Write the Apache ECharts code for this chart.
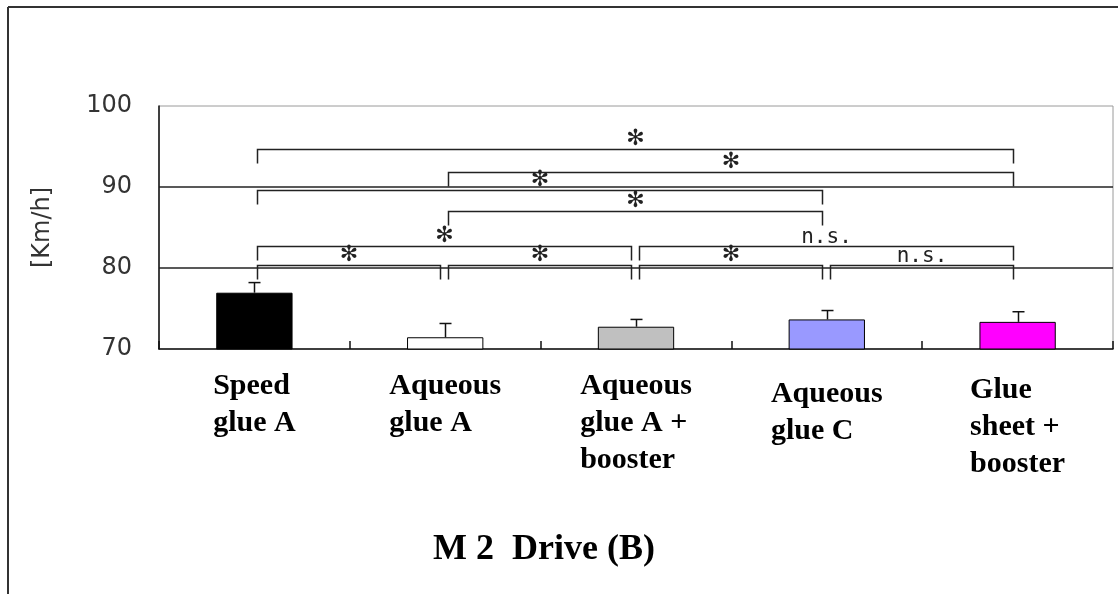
<!DOCTYPE html>
<html>
<head>
<meta charset="utf-8">
<script src="https://cdn.jsdelivr.net/npm/echarts@6/dist/echarts.min.js"></script>
<style>
html,body{margin:0;padding:0;background:#fff;}
#chart{width:1118px;height:594px;}
</style>
</head>
<body>
<div id="chart"></div>
<script>
// ---- data ----
const categories = ['Speed\nglue A', 'Aqueous\nglue A', 'Aqueous\nglue A +\nbooster', 'Aqueous\nglue C', 'Glue\nsheet +\nbooster'];
const means = [76.95, 71.45, 72.75, 73.65, 73.35];
const errors = [1.25, 1.7, 0.9, 1.1, 1.25];
const barColors = ['#000000', '#ffffff', '#c0c0c0', '#9999ff', '#ff00ff'];
const yMin = 70, yMax = 100, yStep = 10;
const refLines = [80, 90];
const bracketFrom  = [0, 1, 0, 1, 0, 2, 0, 1, 2, 3];
const bracketTo    = [4, 4, 3, 3, 2, 4, 1, 2, 3, 4];
const bracketLevel = [94.7, 91.85, 89.63, 87.04, 82.72, 82.72, 80.35, 80.35, 80.35, 80.35];
const bracketLabel = ['*', '*', '*', '*', '*', 'n.s.', '*', '*', '*', 'n.s.'];
const chartTitle = 'M 2  Drive (B)';
const yName = '[Km/h]';

// ---- chart ----
const chart = echarts.init(document.getElementById('chart'), null, {renderer: 'canvas'});
const labelPad = [0, 0, 0, 16, 8];

const option = {
  animation: false,
  backgroundColor: '#ffffff',
  title: {
    text: chartTitle,
    left: 428,
    top: 527,
    textStyle: {fontFamily: 'Liberation Serif', fontWeight: 'bold', fontSize: 36, color: '#000'}
  },
  grid: {left: 159, right: 5, top: 106, bottom: 245, show: true, borderColor: '#9a9a9a', borderWidth: 1, backgroundColor: 'transparent'},
  xAxis: {
    type: 'category',
    data: categories,
    axisLine: {lineStyle: {color: '#111', width: 1.5}},
    axisTick: {show: true, inside: true, length: 8, lineStyle: {color: '#111', width: 1.5}},
    axisLabel: {
      interval: 0,
      margin: 19,
      align: 'center',
      verticalAlign: 'top',
      formatter: function (val, idx) {
        const name = 'p' + idx;
        return val.split('\n').map(l => '{' + name + '|' + l + '}').join('\n');
      },
      rich: (function () {
        const r = {};
        labelPad.forEach((p, i) => {
          r['p' + i] = {align: 'left', fontFamily: 'Liberation Serif', fontWeight: 'bold', fontSize: 30, lineHeight: 37, color: '#000', padding: [p, 0, 0, 0]};
        });
        return r;
      })()
    },
    splitLine: {show: false}
  },
  yAxis: {
    type: 'value',
    min: yMin,
    max: yMax,
    interval: yStep,
    name: yName,
    nameLocation: 'middle',
    nameGap: 104,
    nameRotate: 90,
    nameTextStyle: {fontFamily: 'DejaVu Sans', fontSize: 24, color: '#333'},
    axisLine: {show: true, lineStyle: {color: '#111', width: 1.5}},
    axisTick: {show: false},
    splitLine: {show: false},
    axisLabel: {margin: 27, fontFamily: 'DejaVu Sans', fontSize: 24, color: '#333'}
  },
  series: [
    {
      type: 'bar',
      barWidth: '40%',
      data: means.map((v, i) => ({value: v, itemStyle: {color: barColors[i], borderColor: '#000', borderWidth: 1}})),
      z: 2,
      markLine: {
        silent: true,
        symbol: 'none',
        label: {show: false},
        lineStyle: {color: '#222', width: 1.5, type: 'solid'},
        data: refLines.map(v => ({yAxis: v}))
      }
    },
    {
      type: 'custom',
      z: 3,
      data: means.map((m, i) => [i, m, m + errors[i]]),
      encode: {x: 0, y: [1, 2]},
      renderItem: function (params, api) {
        const p0 = api.coord([api.value(0), api.value(1)]);
        const p1 = api.coord([api.value(0), api.value(2)]);
        const x = Math.round(p0[0]) + 0.5;
        const cap = 6;
        return {
          type: 'group',
          children: [
            {type: 'line', shape: {x1: x, y1: p0[1], x2: x, y2: p1[1]}, style: {stroke: '#111', lineWidth: 1.5}},
            {type: 'line', shape: {x1: x - cap, y1: p1[1], x2: x + cap, y2: p1[1]}, style: {stroke: '#111', lineWidth: 1.5}}
          ]
        };
      }
    },
    {
      type: 'custom',
      z: 4,
      data: bracketFrom.map((f, i) => [f, bracketTo[i], bracketLevel[i]]),
      encode: {x: [0, 1], y: 2},
      renderItem: function (params, api) {
        const i = params.dataIndex;
        const a = api.coord([api.value(0), api.value(2)]);
        const b = api.coord([api.value(1), api.value(2)]);
        const x1 = Math.round(a[0]) + 3.5, x2 = Math.round(b[0]) - 4.5, y = Math.round(a[1]) + 0.5;
        const drop = 14;
        const lab = bracketLabel[i];
        const isStar = lab === '*';
        return {
          type: 'group',
          children: [
            {type: 'polyline', shape: {points: [[x1, y + drop], [x1, y], [x2, y], [x2, y + drop]]}, style: {stroke: '#222', lineWidth: 1.5, fill: null}},
            {type: 'text', x: (x1 + x2) / 2, y: y - (isStar ? 10 : 9),
              style: {text: isStar ? '✻' : lab, align: 'center', verticalAlign: 'middle',
                fontFamily: isStar ? 'DejaVu Sans' : 'DejaVu Sans Mono', fontSize: isStar ? 22 : 21, fontWeight: isStar ? 'bold' : 'normal', fill: '#222'}}
          ]
        };
      }
    }
  ],
  graphic: [
    {type: 'line', shape: {x1: 8, y1: 7, x2: 1118, y2: 7}, style: {stroke: '#333', lineWidth: 2}, silent: true},
    {type: 'line', shape: {x1: 8, y1: 7, x2: 8, y2: 594}, style: {stroke: '#333', lineWidth: 2}, silent: true}
  ]
};
chart.setOption(option);
</script>
</body>
</html>
